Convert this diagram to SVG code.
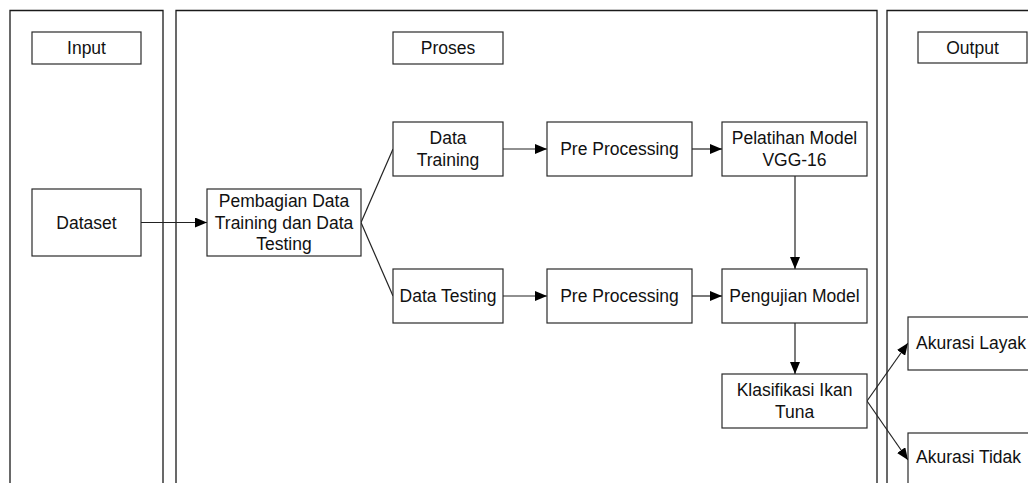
<svg xmlns="http://www.w3.org/2000/svg" width="1028" height="483" viewBox="0 0 1028 483">
<style>
.panel{fill:none;stroke:#1a1a1a;stroke-width:1.3}
.box{fill:#fff;stroke:#2a2a2a;stroke-width:1.2}
.t{font-family:"Liberation Sans",Arial,sans-serif;font-size:17.5px;fill:#111;text-anchor:middle}
.c{fill:none;stroke:#222;stroke-width:1.2}
</style>
<defs>
<marker id="ah" viewBox="0 0 12 10" refX="12" refY="5" markerWidth="12" markerHeight="10" markerUnits="userSpaceOnUse" orient="auto">
<path d="M0,0 L12,5 L0,10 Z" fill="#000"/>
</marker>
</defs>
<rect width="1028" height="483" fill="#fff"/>
<g id="panels">
<path class="panel" d="M10,500 V10.5 H163 V500"/>
<path class="panel" d="M176,500 V10.5 H877 V500"/>
<path class="panel" d="M887,500 V10.5 H1040"/>
</g>
<g id="connectors">
<line class="c" x1="141" y1="222.5" x2="207" y2="222.5" marker-end="url(#ah)"/>
<line class="c" x1="361" y1="222.5" x2="393" y2="149"/>
<line class="c" x1="361" y1="222.5" x2="393" y2="296"/>
<line class="c" x1="503" y1="149" x2="547" y2="149" marker-end="url(#ah)"/>
<line class="c" x1="692" y1="149" x2="722" y2="149" marker-end="url(#ah)"/>
<line class="c" x1="503" y1="296" x2="547" y2="296" marker-end="url(#ah)"/>
<line class="c" x1="692" y1="296" x2="722" y2="296" marker-end="url(#ah)"/>
<line class="c" x1="795" y1="176" x2="795" y2="269" marker-end="url(#ah)"/>
<line class="c" x1="795" y1="323" x2="795" y2="374" marker-end="url(#ah)"/>
<line class="c" x1="867" y1="401" x2="908" y2="343" marker-end="url(#ah)"/>
<line class="c" x1="867" y1="401" x2="908" y2="460" marker-end="url(#ah)"/>
</g>
<g id="n-input"><rect class="box" x="32" y="32" width="109" height="32"/><text class="t" x="86.5" y="54">Input</text></g>
<g id="n-proses"><rect class="box" x="393" y="32" width="110" height="32"/><text class="t" x="448" y="54">Proses</text></g>
<g id="n-output"><rect class="box" x="918" y="32" width="109" height="31"/><text class="t" x="972.5" y="54">Output</text></g>
<g id="n-dataset"><rect class="box" x="32" y="189" width="109" height="67"/><text class="t" x="86.5" y="228.5">Dataset</text></g>
<g id="n-pembagian"><rect class="box" x="207" y="189" width="154" height="67"/><text class="t" x="284" y="207">Pembagian Data</text><text class="t" x="284" y="228.5">Training dan Data</text><text class="t" x="284" y="249.5">Testing</text></g>
<g id="n-datatraining"><rect class="box" x="393" y="122" width="110" height="54"/><text class="t" x="448" y="144">Data</text><text class="t" x="448" y="166">Training</text></g>
<g id="n-pre1"><rect class="box" x="547" y="122" width="145" height="54"/><text class="t" x="619.5" y="155">Pre Processing</text></g>
<g id="n-pelatihan"><rect class="box" x="722" y="122" width="145" height="54"/><text class="t" x="794.5" y="144">Pelatihan Model</text><text class="t" x="794.5" y="166">VGG-16</text></g>
<g id="n-datatesting"><rect class="box" x="393" y="269" width="110" height="54"/><text class="t" x="448" y="302">Data Testing</text></g>
<g id="n-pre2"><rect class="box" x="547" y="269" width="145" height="54"/><text class="t" x="619.5" y="302">Pre Processing</text></g>
<g id="n-pengujian"><rect class="box" x="722" y="269" width="145" height="54"/><text class="t" x="794.5" y="302">Pengujian Model</text></g>
<g id="n-klasifikasi"><rect class="box" x="722" y="374" width="145" height="54"/><text class="t" x="794.5" y="396">Klasifikasi Ikan</text><text class="t" x="794.5" y="418">Tuna</text></g>
<g id="n-layak"><rect class="box" x="908" y="317" width="140" height="53"/><text class="t" x="916" y="349" style="text-anchor:start">Akurasi Layak</text></g>
<g id="n-tidak"><rect class="box" x="908" y="433" width="140" height="60"/><text class="t" x="916" y="463" style="text-anchor:start">Akurasi Tidak</text></g>
</svg>
